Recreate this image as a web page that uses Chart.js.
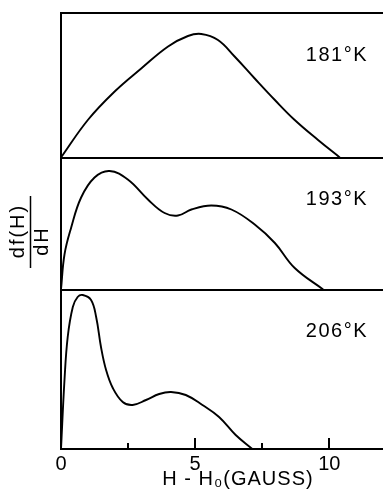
<!DOCTYPE html>
<html>
<head>
<meta charset="utf-8">
<script src="https://cdn.jsdelivr.net/npm/chart.js@4.4.1/dist/chart.umd.min.js"></script>
<style>
  html, body { margin: 0; padding: 0; background: #fff; }
  canvas { display: block; }
</style>
</head>
<body>
<canvas id="spectra" width="383" height="494"></canvas>
<script>
// field offset H - H0 (gauss) and derivative amplitude, one pair per temperature
const field181 = [0, 1.0, 2.0, 2.99, 3.99, 4.73, 5.23, 5.85, 6.47, 7.22, 7.97, 8.71, 9.58, 10.39];
const signal181 = [0, 3.75, 6.6, 8.9, 11.1, 12.15, 12.35, 11.75, 10.1, 7.9, 5.75, 3.75, 1.75, 0];

const field193 = [0, 0.13, 0.38, 0.75, 1.25, 1.81, 2.49, 3.24, 3.86, 4.36, 4.86, 5.6, 6.35, 7.22, 7.97, 8.71, 9.77];
const signal193 = [0, 3.5, 6.2, 9.2, 11.2, 11.85, 11.0, 9.0, 7.65, 7.4, 8.0, 8.4, 8.0, 6.5, 4.65, 2.15, 0];

const field206 = [0, 0.13, 0.25, 0.44, 0.62, 0.81, 1.12, 1.31, 1.49, 1.68, 1.93, 2.3, 2.67, 3.17, 3.66, 4.1, 4.65, 5.27, 5.89, 6.51, 7.13];
const signal206 = [0, 6.9, 11.2, 14.2, 15.2, 15.4, 14.9, 13.2, 10.2, 7.9, 6.1, 4.7, 4.4, 4.9, 5.5, 5.7, 5.4, 4.4, 3.2, 1.4, 0];

const temperatures = ["181°K", "193°K", "206°K"];
const panelMax = [14.45, 13.2, 15.95];
const majorTicks = [5, 10];
const minorTicks = [2.5, 7.5];

const FONT = "'Liberation Sans', Arial, sans-serif";

function points(xs, ys) {
  return xs.map((x, i) => ({ x: x, y: ys[i] }));
}

function trace(xs, ys, axis) {
  return {
    data: points(xs, ys),
    yAxisID: axis,
    showLine: true,
    borderColor: "#000",
    borderWidth: 1.9,
    pointRadius: 0,
    tension: 0.4,
    clip: false,
  };
}

// one panel per temperature, stacked on the left
function panelAxis(max, weight, drawTop) {
  return {
    type: "linear",
    position: "left",
    stack: "panels",
    stackWeight: max * 10,
    weight: weight,
    min: 0,
    max: max,
    ticks: { display: false, stepSize: max },
    grid: {
      drawTicks: false,
      lineWidth: 2,
      color: (c) => (c.tick.value === 0 || (drawTop && c.tick.value === max)) ? "#000" : "rgba(0,0,0,0)",
    },
    border: { display: true, color: "#000", width: 2 },
  };
}

const decorations = {
  id: "decorations",
  afterDraw(chart) {
    const { ctx, chartArea, scales } = chart;
    const x = scales.x;
    ctx.save();
    ctx.strokeStyle = "#000";
    ctx.fillStyle = "#000";

    // tick marks pointing into the bottom panel
    ctx.lineWidth = 2;
    const tick = (v, len) => {
      const px = Math.round(x.getPixelForValue(v));
      ctx.beginPath();
      ctx.moveTo(px, chartArea.bottom);
      ctx.lineTo(px, chartArea.bottom - len);
      ctx.stroke();
    };
    majorTicks.forEach((v) => tick(v, 11));
    minorTicks.forEach((v) => tick(v, 6));

    // temperature label in each panel
    ctx.font = "20px " + FONT;
    ctx.letterSpacing = "1.5px";
    ctx.textAlign = "right";
    ctx.textBaseline = "middle";
    ["y1", "y2", "y3"].forEach((id, i) => {
      ctx.fillText(temperatures[i], chartArea.right - 15, scales[id].top + 42);
    });

    // x axis title
    ctx.font = "20px " + FONT;
    ctx.letterSpacing = "1px";
    ctx.textAlign = "center";
    ctx.fillText("H - H\u2080(GAUSS)", 238, 479);

    // y axis title written as a fraction, turned sideways
    const cy = (chartArea.top + chartArea.bottom) / 2;
    ctx.font = "20px " + FONT;
    ctx.letterSpacing = "2px";
    ctx.textBaseline = "alphabetic";
    ctx.save();
    ctx.translate(24, cy);
    ctx.rotate(-Math.PI / 2);
    ctx.fillText("df(H)", 0, 0);
    ctx.restore();
    ctx.save();
    ctx.translate(48, cy + 10);
    ctx.rotate(-Math.PI / 2);
    ctx.fillText("dH", 0, 0);
    ctx.restore();
    ctx.lineWidth = 1.5;
    ctx.beginPath();
    ctx.moveTo(30.5, cy - 35);
    ctx.lineTo(30.5, cy + 37);
    ctx.stroke();

    ctx.restore();
  },
};

new Chart(document.getElementById("spectra"), {
  type: "scatter",
  data: {
    datasets: [
      trace(field181, signal181, "y1"),
      trace(field193, signal193, "y2"),
      trace(field206, signal206, "y3"),
    ],
  },
  options: {
    responsive: false,
    animation: false,
    events: [],
    layout: { padding: { left: 61, right: 0, top: 13, bottom: 0 } },
    plugins: {
      legend: { display: false },
      tooltip: { enabled: false },
    },
    scales: {
      x: {
        type: "linear",
        position: "bottom",
        min: 0,
        max: 12,
        ticks: {
          stepSize: 5,
          includeBounds: false,
          color: "#000",
          padding: 3,
          font: { family: FONT, size: 20 },
        },
        grid: { display: false, drawTicks: false },
        border: { display: true, color: "#000", width: 2 },
        afterFit: (scale) => { scale.height = 45; },
      },
      y1: panelAxis(panelMax[0], 3, true),
      y2: panelAxis(panelMax[1], 2, false),
      y3: panelAxis(panelMax[2], 1, false),
    },
  },
  plugins: [decorations],
});
</script>
</body>
</html>
